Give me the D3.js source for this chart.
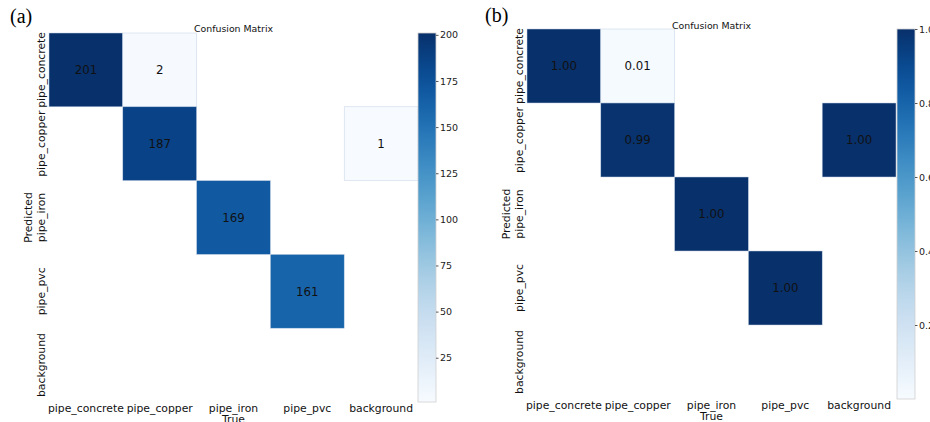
<!DOCTYPE html><html><meta charset="UTF-8">
<title>Confusion matrices</title>
<style>
  body { margin: 0; background: #fff; overflow: hidden; }
  text { font-family: "DejaVu Sans", sans-serif; fill: #111; }
  .panel-tag { font-family: "Liberation Serif", "Times New Roman", serif; font-size: 20px; fill: #000; }
  .tick-label { font-size: 10.8px; }
  .cell-text { font-size: 11.8px; }
  .title { font-size: 9.4px; }
  .cbar text { font-size: 9.5px; fill: #222; }
  .cbar line { stroke: #555; }
</style>
<script src="https://cdn.jsdelivr.net/npm/d3@7"></script>
<svg width="930" height="422"></svg>
<script>

// class names, rows = predicted, columns = true
var classes = ["pipe_concrete", "pipe_copper", "pipe_iron", "pipe_pvc", "background"];

// (a) raw counts
var countsA = [
  [201, 2, 0, 0, 0],
  [0, 187, 0, 0, 1],
  [0, 0, 169, 0, 0],
  [0, 0, 0, 161, 0],
  [0, 0, 0, 0, 0]
];

// (b) normalised
var normB = [
  [1.00, 0.01, 0, 0, 0],
  [0, 0.99, 0, 0, 1.00],
  [0, 0, 1.00, 0, 0],
  [0, 0, 0, 1.00, 0],
  [0, 0, 0, 0, 0]
];

var ticksA = [25, 50, 75, 100, 125, 150, 175, 200];
var ticksB = [0.2, 0.4, 0.6, 0.8, 1.0];

var svg = d3.select("svg");

var defs = svg.append("defs");
defs.append("clipPath").attr("id", "clipB")
  .append("rect").attr("x", 600).attr("y", 22).attr("width", 230).attr("height", 20);

function drawPanel(p) {
  var g = svg.append("g");

  var x = d3.scaleBand().domain(classes).range([p.x0, p.x1]);
  var y = d3.scaleBand().domain(classes).range([p.y0, p.y1]);
  var color = d3.scaleSequential(d3.interpolateBlues).domain(p.domain);

  // cells (zero entries left blank)
  var cells = [];
  p.data.forEach(function(row, i) {
    row.forEach(function(v, j) {
      if (v > 0) cells.push({pred: classes[i], truth: classes[j], v: v});
    });
  });

  g.selectAll("rect.cell").data(cells).enter()
    .append("rect")
    .attr("class", "cell")
    .attr("x", d => x(d.truth))
    .attr("y", d => y(d.pred))
    .attr("width", x.bandwidth())
    .attr("height", y.bandwidth())
    .attr("fill", d => color(d.v))
    .attr("stroke", "#c4d2e4")
    .attr("stroke-width", 0.5);

  g.selectAll("text.cell-text").data(cells).enter()
    .append("text")
    .attr("class", "cell-text")
    .attr("x", d => x(d.truth) + x.bandwidth() / 2)
    .attr("y", d => y(d.pred) + y.bandwidth() / 2)
    .attr("text-anchor", "middle")
    .attr("dy", "0.36em")
    .text(d => p.fmt(d.v));

  // x tick labels
  g.selectAll("text.xl").data(classes).enter()
    .append("text")
    .attr("class", "tick-label")
    .attr("x", d => x(d) + x.bandwidth() / 2)
    .attr("y", p.xLabelY)
    .attr("text-anchor", "middle")
    .text(d => d);

  // y tick labels (rotated)
  g.selectAll("text.yl").data(classes).enter()
    .append("text")
    .attr("class", "tick-label")
    .attr("text-anchor", "middle")
    .attr("transform", d => "translate(" + p.yLabelX + "," + (y(d) + y.bandwidth() / 2) + ") rotate(-90)")
    .text(d => d);

  // axis titles
  g.append("text")
    .attr("class", "tick-label")
    .attr("text-anchor", "middle")
    .attr("x", (p.x0 + p.x1) / 2)
    .attr("y", p.trueY)
    .text("True");

  g.append("text")
    .attr("class", "tick-label")
    .attr("text-anchor", "middle")
    .attr("transform", "translate(" + p.predX + "," + ((p.y0 + p.y1) / 2) + ") rotate(-90)")
    .text("Predicted");

  var title = g.append("text")
    .attr("class", "title")
    .attr("text-anchor", "middle")
    .attr("x", (p.x0 + p.x1) / 2)
    .attr("y", p.titleY)
    .text("Confusion Matrix");
  if (p.titleClip) title.attr("clip-path", "url(#" + p.titleClip + ")");

  g.append("text")
    .attr("class", "panel-tag")
    .attr("x", p.tagX)
    .attr("y", p.tagY)
    .text(p.tag);

  // colour bar
  var gradId = "grad" + p.tag.replace(/\W/g, "");
  var grad = defs.append("linearGradient").attr("id", gradId)
    .attr("x1", 0).attr("y1", 1).attr("x2", 0).attr("y2", 0);
  d3.range(0, 1.0001, 0.05).forEach(function(t) {
    grad.append("stop").attr("offset", t).attr("stop-color", d3.interpolateBlues(t));
  });

  var cb = g.append("g").attr("class", "cbar");
  cb.append("rect")
    .attr("x", p.cbX).attr("y", p.y0)
    .attr("width", p.cbW).attr("height", p.y1 - p.y0)
    .attr("fill", "url(#" + gradId + ")")
    .attr("stroke", "#cfcfcf").attr("stroke-width", 0.8);

  var cbScale = d3.scaleLinear().domain(p.domain).range([p.y1, p.y0]);
  var axis = cb.append("g")
    .attr("transform", "translate(" + (p.cbX + p.cbW) + ",0)")
    .call(d3.axisRight(cbScale).tickValues(p.ticks).tickFormat(p.tickFmt).tickSize(2.5).tickPadding(1.5));
  axis.select(".domain").remove();
}

drawPanel({
  tag: "(a)", tagX: 10, tagY: 23,
  data: countsA, domain: [1, 201], fmt: d3.format("d"),
  ticks: ticksA, tickFmt: d3.format("d"),
  x0: 49, x1: 418, y0: 33, y1: 402,
  cbX: 418, cbW: 18,
  xLabelY: 412, yLabelX: 44.5, trueY: 423, predX: 32,
  titleY: 31.5
});

drawPanel({
  tag: "(b)", tagX: 485, tagY: 21.5,
  data: normB, domain: [0, 1], fmt: d3.format(".2f"),
  ticks: ticksB, tickFmt: d3.format(".1f"),
  x0: 527, x1: 896, y0: 29, y1: 399,
  cbX: 897, cbW: 18,
  xLabelY: 408.5, yLabelX: 522.5, trueY: 419.5, predX: 510,
  titleY: 28.5, titleClip: "clipB"
});

</script>
